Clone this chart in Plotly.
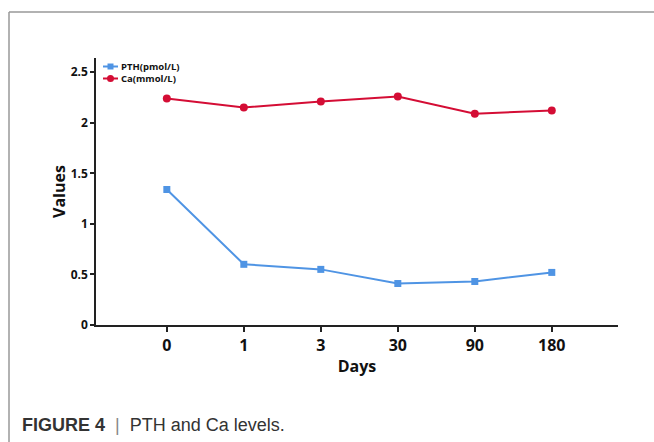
import plotly.graph_objects as go

days = ["0", "1", "3", "30", "90", "180"]
pth = [1.34, 0.60, 0.55, 0.41, 0.43, 0.52]
ca = [2.24, 2.15, 2.21, 2.26, 2.09, 2.12]
y_ticks = [0, 0.5, 1, 1.5, 2, 2.5]
y_tick_labels = ["0", "0.5", "1", "1.5", "2", "2.5"]

W, H = 654, 442
L, R, T, B = 96, 36, 58, 117
pw, ph = W - L - R, H - T - B

def px(x):
    return (x - L) / pw

def py(y):
    return (H - B - y) / ph

RED = "#d40d35"
BLUE = "#4f94e4"

fig = go.Figure()
fig.add_trace(go.Scatter(x=list(range(len(days))), y=pth, mode="lines+markers",
                         line=dict(color=BLUE, width=2),
                         marker=dict(symbol="square", size=7, color=BLUE),
                         name="PTH(pmol/L)", showlegend=False))
fig.add_trace(go.Scatter(x=list(range(len(days))), y=ca, mode="lines+markers",
                         line=dict(color=RED, width=2),
                         marker=dict(symbol="circle", size=8, color=RED),
                         name="Ca(mmol/L)", showlegend=False))

fig.update_layout(
    width=W, height=H,
    margin=dict(l=L, r=R, t=T, b=B),
    paper_bgcolor="white", plot_bgcolor="white",
    xaxis=dict(range=[-0.92, 5.86], tickmode="array", tickvals=list(range(len(days))),
               ticktext=[f"<b>{d}</b>" for d in days],
               tickfont=dict(family="Open Sans", size=16, color="#111"),
               showline=True, linecolor="#222", linewidth=1.5, ticks="outside",
               ticklen=5, tickcolor="#222", tickwidth=1.5, showgrid=False, zeroline=False,
               title=dict(text="<b>Days</b>", font=dict(family="Open Sans", size=16, color="#111"),
                          standoff=6)),
    yaxis=dict(range=[0, 2.64], tickmode="array", tickvals=y_ticks,
               ticktext=[f"<b>{t}</b>" for t in y_tick_labels],
               tickfont=dict(family="Open Sans", size=12, color="#111"),
               showline=True, linecolor="#222", linewidth=1.5, ticks="outside",
               ticklen=4, tickcolor="#222", tickwidth=1.5, showgrid=False, zeroline=False,
               title=dict(text="<b>Values</b>", font=dict(family="Open Sans", size=16, color="#111"),
                          standoff=1)),
)

# manual legend
legend_items = [("PTH(pmol/L)", BLUE, "square", 66.5), ("Ca(mmol/L)", RED, "circle", 78.5)]
shapes = []
annotations = []
for label, color, sym, yy in legend_items:
    shapes.append(dict(type="line", xref="paper", yref="paper", x0=px(103), x1=px(118),
                       y0=py(yy), y1=py(yy), line=dict(color=color, width=2)))
    if sym == "square":
        shapes.append(dict(type="rect", xref="paper", yref="paper", x0=px(107.5), x1=px(113.5),
                           y0=py(yy - 3), y1=py(yy + 3), fillcolor=color, line=dict(width=0)))
    else:
        shapes.append(dict(type="circle", xref="paper", yref="paper", x0=px(107), x1=px(114),
                           y0=py(yy - 3.5), y1=py(yy + 3.5), fillcolor=color, line=dict(width=0)))
    annotations.append(dict(text=f"<b>{label}</b>", xref="paper", yref="paper", x=px(120), y=py(yy),
                            xanchor="left", yanchor="middle", showarrow=False, borderpad=0,
                            font=dict(family="Open Sans", size=9.5, color="#111")))

# page frame
shapes.append(dict(type="line", xref="paper", yref="paper", x0=px(9), x1=px(654), y0=py(12), y1=py(12),
                   line=dict(color="#999", width=1.5)))
shapes.append(dict(type="line", xref="paper", yref="paper", x0=px(9), x1=px(9), y0=py(12), y1=py(442),
                   line=dict(color="#999", width=1.5)))

annotations.append(dict(text="<b>FIGURE 4</b>  <span style='color:#888'>|</span>  PTH and Ca levels.",
                        xref="paper", yref="paper", x=px(20), y=py(425), xanchor="left", yanchor="middle",
                        showarrow=False, font=dict(family="Liberation Sans", size=18, color="#333")))

fig.update_layout(shapes=shapes, annotations=annotations)
fig.write_html("out.html", config={"displayModeBar": False},
               post_script="document.body.style.margin='0';")
